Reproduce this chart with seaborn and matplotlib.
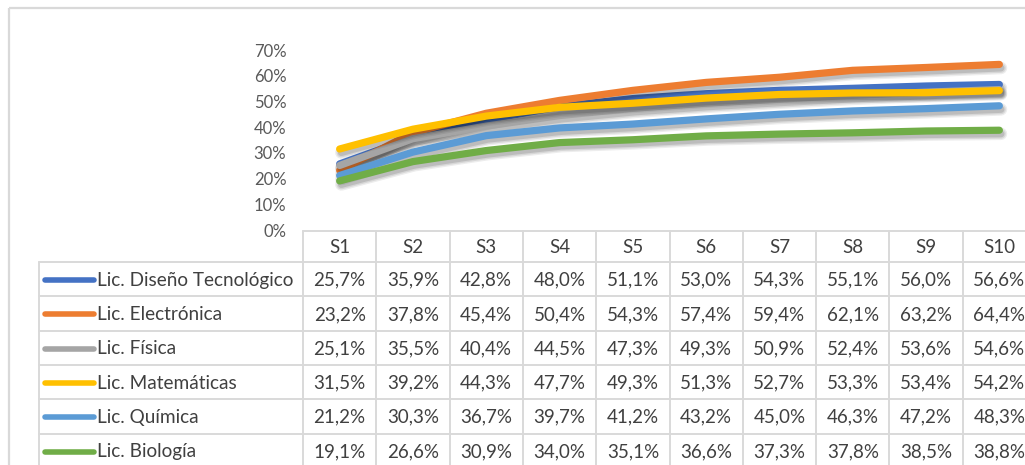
import matplotlib
matplotlib.use("Agg")
import matplotlib.pyplot as plt
import matplotlib.patheffects as pe
from matplotlib.patches import Rectangle
import numpy as np
import pandas as pd
import seaborn as sns

# --- data -----------------------------------------------------------------
semesters = ["S1", "S2", "S3", "S4", "S5", "S6", "S7", "S8", "S9", "S10"]
programs = [
    "Lic. Diseño Tecnológico",
    "Lic. Electrónica",
    "Lic. Física",
    "Lic. Matemáticas",
    "Lic. Química",
    "Lic. Biología",
]
diseno = [25.7, 35.9, 42.8, 48.0, 51.1, 53.0, 54.3, 55.1, 56.0, 56.6]
electronica = [23.2, 37.8, 45.4, 50.4, 54.3, 57.4, 59.4, 62.1, 63.2, 64.4]
fisica = [25.1, 35.5, 40.4, 44.5, 47.3, 49.3, 50.9, 52.4, 53.6, 54.6]
matematicas = [31.5, 39.2, 44.3, 47.7, 49.3, 51.3, 52.7, 53.3, 53.4, 54.2]
quimica = [21.2, 30.3, 36.7, 39.7, 41.2, 43.2, 45.0, 46.3, 47.2, 48.3]
biologia = [19.1, 26.6, 30.9, 34.0, 35.1, 36.6, 37.3, 37.8, 38.5, 38.8]
series = [diseno, electronica, fisica, matematicas, quimica, biologia]
y_ticks = [0, 10, 20, 30, 40, 50, 60, 70]

colors = ["#4472C4", "#ED7D31", "#A5A5A5", "#FFC000", "#5B9BD5", "#70AD47"]

rows = []
for prog, vals in zip(programs, series):
    for i, v in enumerate(vals):
        rows.append({"programa": prog, "pos": i, "valor": v})
df = pd.DataFrame(rows)

# --- figure ---------------------------------------------------------------
W, H = 1025, 465
DPI = 100
sns.set_theme(style="white")
plt.rcParams["font.family"] = ["Lato", "DejaVu Sans"]

fig = plt.figure(figsize=(W / DPI, H / DPI), dpi=DPI)
fig.patch.set_facecolor("white")


def px_box(left, top, right, bottom):
    return [left / W, 1 - bottom / H, (right - left) / W, (bottom - top) / H]


# plot area (extends past the right edge, as the last column does)
col_left, col_w = 303, 73.3
ax = fig.add_axes(px_box(col_left, 50, col_left + 10 * col_w, 230))
ax.set_facecolor("none")

# soft drop shadow built from a few translucent, widening strokes
shadow = [
    pe.SimpleLineShadow(offset=(1.2, -2.6), shadow_color="black", alpha=0.07, linewidth=9),
    pe.SimpleLineShadow(offset=(1.2, -2.6), shadow_color="black", alpha=0.09, linewidth=7),
    pe.SimpleLineShadow(offset=(1.2, -2.6), shadow_color="black", alpha=0.12, linewidth=5),
    pe.Normal(),
]
sns.lineplot(data=df, x="pos", y="valor", hue="programa", hue_order=programs,
             palette=colors, linewidth=5.2, legend=False, ax=ax,
             solid_capstyle="round", solid_joinstyle="round")
for line in ax.get_lines():
    line.set_path_effects(shadow)

ax.set_xlim(-0.5, 9.5)
ax.set_ylim(0, 70)
ax.set_xticks([])
ax.set_yticks(y_ticks)
ax.set_yticklabels([f"{t}%" for t in y_ticks], fontsize=12, color="#595959")
ax.tick_params(axis="y", length=0, pad=12)
ax.set_xlabel("")
ax.set_ylabel("")
for s in ax.spines.values():
    s.set_visible(False)

# --- data table + chart frame (pixel overlay) ------------------------------
ov = fig.add_axes([0, 0, 1, 1])
ov.set_xlim(0, W)
ov.set_ylim(H, 0)
ov.axis("off")
ov.set_zorder(-1)

ov.add_patch(Rectangle((9, 8), W + 20, H + 20, fill=False,
                       edgecolor="#d9d9d9", linewidth=1.6))

grid_c = "#d9d9d9"
head_top, head_bot = 231, 262
row_h = 34.3
tab_left = 39
n_rows = len(programs)
table_bottom = head_bot + n_rows * row_h

# horizontal rules
ov.plot([col_left, W + 5], [head_top, head_top], color=grid_c, lw=1.4)
for r in range(n_rows + 1):
    y = head_bot + r * row_h
    ov.plot([tab_left, W + 5], [y, y], color=grid_c, lw=1.4)
# vertical rules
ov.plot([tab_left, tab_left], [head_bot, table_bottom], color=grid_c, lw=1.4)
for c in range(len(semesters) + 1):
    x = col_left + c * col_w
    ov.plot([x, x], [head_top, table_bottom], color=grid_c, lw=1.4)

txt_c = "#404040"
for c, s in enumerate(semesters):
    ov.text(col_left + (c + 0.5) * col_w, (head_top + head_bot) / 2 + 1, s,
            ha="center", va="center", fontsize=13.5, color=txt_c)

for r, (prog, vals, col) in enumerate(zip(programs, series, colors)):
    yc = head_bot + (r + 0.5) * row_h + 1
    ov.plot([45, 94], [yc, yc], color=col, lw=4, solid_capstyle="round")
    ov.text(97, yc, prog, ha="left", va="center", fontsize=13.7, color=txt_c)
    for c, v in enumerate(vals):
        label = f"{v:.1f}%".replace(".", ",")
        ov.text(col_left + (c + 0.5) * col_w, yc, label,
                ha="center", va="center", fontsize=13.5, color=txt_c)

fig.savefig("out.png", dpi=DPI, facecolor="white")
